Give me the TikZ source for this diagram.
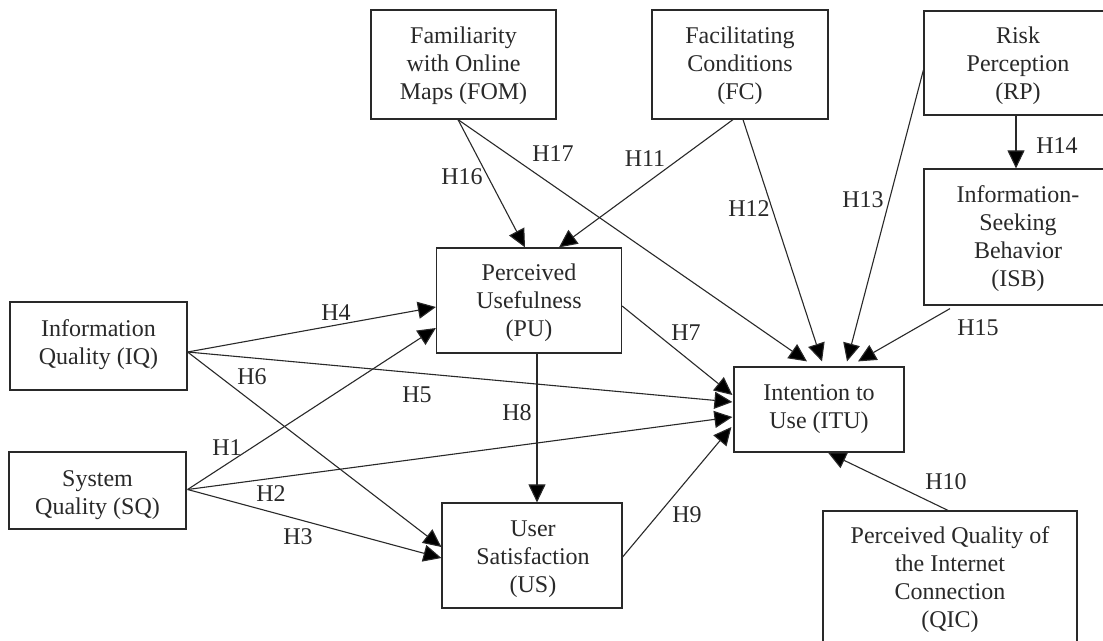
\documentclass[tikz,border=0pt]{standalone}
\usepackage{fontspec}
\setmainfont{Liberation Serif}
\usetikzlibrary{arrows.meta,calc}
\definecolor{ink}{gray}{0.16}
\newcommand{\boxtext}[2]{\raisebox{\dimexpr-6pt-#1\relax}[0pt][0pt]{\begin{tabular}[c]{@{}c@{}}#2\end{tabular}}}
\tikzset{
  box/.style={draw=ink,line width=1.2pt,fill=white,inner sep=0pt,text=ink,
    font=\fontsize{24}{28}\selectfont},
  link/.style={draw=ink,line width=1.1pt,-{Triangle[length=18pt,width=17pt,fill=black]}},
  hyp/.style={text=ink,inner sep=0pt,font=\fontsize{24}{28}\selectfont}
}
\begin{document}
\begin{tikzpicture}[x=1pt,y=-1pt]
\path[use as bounding box] (0,0) rectangle (1103,640);
\clip (0,0) rectangle (1103,640);
\fill[white] (0,0) rectangle (1103,640);
\node[box,minimum width=185pt,minimum height=109pt] (FOM) at (463.5,64.5) {\boxtext{2pt}{Familiarity\\with Online\\Maps (FOM)}};
\node[box,minimum width=176pt,minimum height=109pt] (FC) at (740,64.5) {\boxtext{2pt}{Facilitating\\Conditions\\(FC)}};
\node[box,minimum width=188pt,minimum height=104pt] (RP) at (1018,63) {\boxtext{3pt}{Risk\\Perception\\(RP)}};
\node[box,minimum width=188pt,minimum height=136pt] (ISB) at (1018,237) {\boxtext{2pt}{Information-\\Seeking\\Behavior\\(ISB)}};
\node[box,minimum width=185pt,minimum height=105pt] (PU) at (529,300.5) {\boxtext{3pt}{Perceived\\Usefulness\\(PU)}};
\node[box,minimum width=177pt,minimum height=88pt] (IQ) at (98.5,346) {\boxtext{-0.6pt}{Information\\Quality (IQ)}};
\node[box,minimum width=177pt,minimum height=77pt] (SQ) at (97.5,490.5) {\boxtext{5pt}{System\\Quality (SQ)}};
\node[box,minimum width=170pt,minimum height=85pt] (ITU) at (819,409.5) {\boxtext{-0.5pt}{Intention to\\Use (ITU)}};
\node[box,minimum width=180pt,minimum height=105pt] (US) at (532,555.5) {\kern2pt\boxtext{4pt}{User\\Satisfaction\\(US)}};
\node[box,minimum width=254pt,minimum height=138pt] (QIC) at (950,580) {\boxtext{0pt}{Perceived Quality of\\the Internet\\Connection\\(QIC)}};
% connectors
\draw[link] ($(IQ.east)+(0,6)$) -- ($(PU.west)+(0,6.5)$);
\draw[link] ($(SQ.east)+(1,-1)$) -- ($(PU.west)+(0,27.5)$);
\draw[link] ($(IQ.east)+(0,6)$) -- ($(ITU.west)+(-1,-7.5)$);
\draw[link] ($(SQ.east)+(1,-1)$) -- ($(ITU.west)+(-1,7.5)$);
\draw[link] ($(IQ.east)+(0,6)$) -- ($(US.west)+(0,-8.5)$);
\draw[link] ($(SQ.east)+(1,-1)$) -- ($(US.west)+(0,2.5)$);
\draw[link] ($(PU.east)+(0,5.5)$) -- ($(ITU.west)+(-1,-14.5)$);
\draw[link] ($(PU.south)+(8,0)$) -- ($(US.north)+(5,0)$);
\draw[link] ($(US.east)+(0,1.5)$) -- ($(ITU.west)+(-2,17.5)$);
\draw[link] ($(QIC.north)+(-2,0)$) -- ($(ITU.south)+(9,0)$);
\draw[link] ($(FOM.south)+(-5.5,0)$) -- ($(PU.north)+(-4,0)$);
\draw[link] ($(FOM.south)+(-5.5,0)$) -- ($(ITU.north)+(-12,-5)$);
\draw[link] ($(FC.south)+(-7,0)$) -- ($(PU.north)+(30,0)$);
\draw[link] ($(FC.south)+(3,0)$) -- ($(ITU.north)+(3,-5)$);
\draw[link] ($(RP.west)+(0,7)$) -- ($(ITU.north)+(28,-5)$);
\draw[link] ($(RP.south)+(-2,0)$) -- ($(ISB.north)+(-2,0)$);
\draw[link] ($(ISB.south)+(-68,3)$) -- ($(ITU.north)+(39,-5)$);
% labels
\node[hyp] (h1) at (227,448) {H1};
\node[hyp] (h2) at (271,494) {H2};
\node[hyp] (h3) at (298,537) {H3};
\node[hyp] (h4) at (336,313) {H4};
\node[hyp] (h5) at (417,395) {H5};
\node[hyp] (h6) at (252,377) {H6};
\node[hyp] (h7) at (686,333) {H7};
\node[hyp] (h8) at (517,413) {H8};
\node[hyp] (h9) at (687,515) {H9};
\node[hyp] (h10) at (946,482) {H10};
\node[hyp] (h11) at (645,159) {H11};
\node[hyp] (h12) at (749,209) {H12};
\node[hyp] (h13) at (863,200) {H13};
\node[hyp] (h14) at (1057,146) {H14};
\node[hyp] (h15) at (978,328) {H15};
\node[hyp] (h16) at (462,177) {H16};
\node[hyp] (h17) at (553,154) {H17};
\end{tikzpicture}
\end{document}
